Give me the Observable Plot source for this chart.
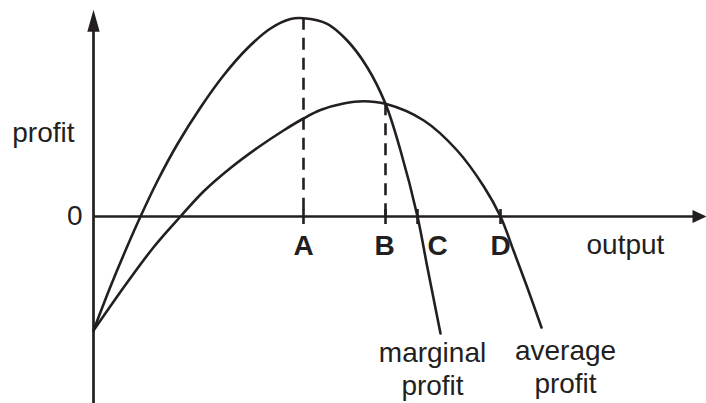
<!DOCTYPE html>
<html>
<head>
<meta charset="utf-8">
<script src="https://cdn.jsdelivr.net/npm/d3@7"></script>
<script src="https://cdn.jsdelivr.net/npm/@observablehq/plot@0.6"></script>
<style>
  html, body { margin: 0; padding: 0; background: #fff; }
  #chart svg { display: block; }
</style>
</head>
<body>
<div id="chart"></div>
<script>
// Output (x) and profit (y) values (arbitrary units, origin at the axes' crossing)
const marginalX = [0, 17, 33.7, 47, 63.7, 83.7, 107, 130, 153.7, 177, 197, 210, 233.7, 253.7, 273.7, 292, 307, 324, 333.7, 347];
const marginalY = [-114, -70, -30, 0, 35, 72, 109, 141, 168, 188, 197.5, 198.3, 192.7, 176, 149.3, 112.7, 66, 0, -50, -117];
const averageX = [0, 33.7, 60.3, 87, 110, 137, 163.7, 190, 210, 227, 250, 270, 292, 330.3, 363.7, 390.3, 407, 420, 433.7, 448];
const averageY = [-114, -66, -30.5, 0, 25, 48.5, 68.5, 86, 98, 106.5, 113, 115.3, 112.7, 96, 66, 30, 0, -34, -70.7, -111];

// Points on the output axis
const tickNames = ["A", "B", "C", "D"];
const tickX = [210, 292, 324, 407];
const tickLabelX = [210, 291, 344, 407];
// Dashed guides: A at marginal-profit maximum, B where marginal = average
const guideX = [210, 292];
const guideTop = [198.3, 112.7];

const ink = "#231f20";
const font = "'Liberation Sans', Arial, Helvetica, sans-serif";

const marginal = marginalX.map((x, i) => ({x, y: marginalY[i]}));
const average = averageX.map((x, i) => ({x, y: averageY[i]}));
const guides = guideX.map((x, i) => ({x, top: guideTop[i]}));
const ticks = tickX.map((x, i) => ({x, name: tickNames[i], lx: tickLabelX[i]}));

// filled triangular arrowheads, tip at the anchor point
const upHead = {draw(ctx) { ctx.moveTo(0, 0); ctx.lineTo(6.2, 22); ctx.lineTo(-6.2, 22); ctx.closePath(); }};
const rightHead = {draw(ctx) { ctx.moveTo(0, 0); ctx.lineTo(-14, -6.5); ctx.lineTo(-14, 6.5); ctx.closePath(); }};

const chart = Plot.plot({
  width: 706,
  height: 403,
  marginLeft: 93,
  marginRight: 0,
  marginTop: 0,
  marginBottom: 0,
  style: {fontFamily: font, fontSize: "28px", color: ink, background: "#fff"},
  x: {domain: [0, 613], axis: null},
  y: {domain: [-187, 216], axis: null},
  marks: [
    // axes
    Plot.ruleY([0], {x1: 0, x2: 600, stroke: ink, strokeWidth: 2.7}),
    Plot.ruleX([0], {y1: -187, y2: 190, stroke: ink, strokeWidth: 2.7}),
    Plot.dot([{x: 0, y: 206.7}], {x: "x", y: "y", symbol: upHead, fill: ink, stroke: "none"}),
    Plot.dot([{x: 613, y: 0}], {x: "x", y: "y", symbol: rightHead, fill: ink, stroke: "none"}),
    // dashed guides
    Plot.ruleX(guides, {x: "x", y1: "top", y2: 0, stroke: ink, strokeWidth: 2.6, strokeDasharray: "12,8"}),
    // ticks
    Plot.ruleX(ticks, {x: "x", y1: 7, y2: -8, stroke: ink, strokeWidth: 2.6}),
    // curves
    Plot.line(marginal, {x: "x", y: "y", curve: "catmull-rom", stroke: ink, strokeWidth: 2.6}),
    Plot.line(average, {x: "x", y: "y", curve: "catmull-rom", stroke: ink, strokeWidth: 2.6}),
    // labels
    Plot.text(ticks, {x: "lx", y: -30, text: "name", fontWeight: "bold", fill: ink, fontSize: 28}),
    Plot.text(["profit"], {x: -19, y: 83, text: d => d, textAnchor: "end", fill: ink, fontSize: 28}),
    Plot.text(["0"], {x: -11, y: 0, text: d => d, textAnchor: "end", fill: ink, fontSize: 28}),
    Plot.text(["output"], {x: 493, y: -28.3, text: d => d, textAnchor: "start", fill: ink, fontSize: 28}),
    Plot.text(["marginal\nprofit"], {x: 339, y: -151.7, text: d => d, lineHeight: 1.18, fill: ink, fontSize: 28}),
    Plot.text(["average\nprofit"], {x: 472, y: -149.2, text: d => d, lineHeight: 1.18, fill: ink, fontSize: 28})
  ]
});
document.getElementById("chart").append(chart);
</script>
</body>
</html>
